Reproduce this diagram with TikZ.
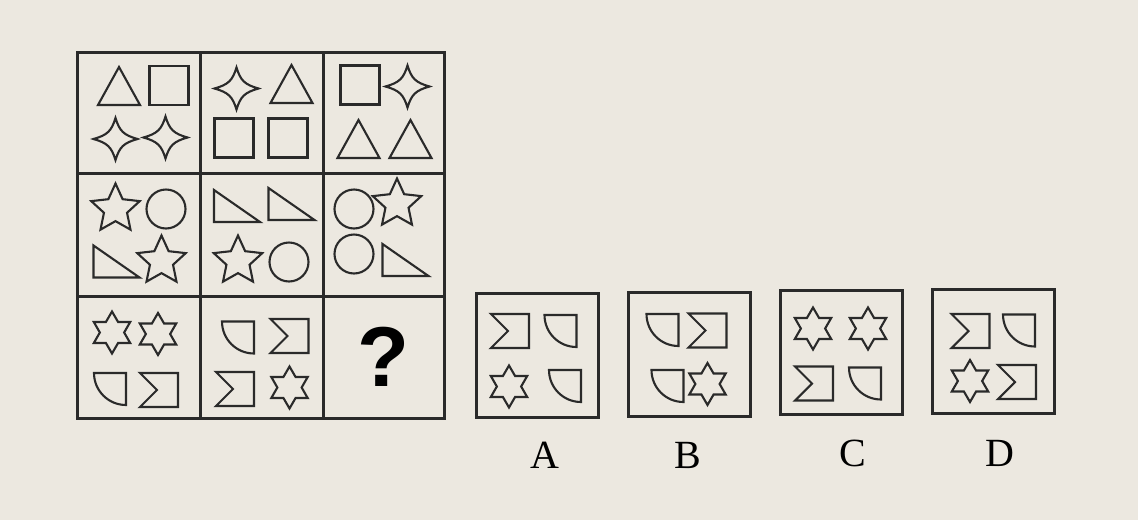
\documentclass[tikz,border=0pt]{standalone}
\usepackage{fontspec}
\setmainfont{Liberation Serif}
\newfontfamily\qfont{Liberation Sans}
\usetikzlibrary{shapes.geometric}
\definecolor{paper}{RGB}{236,232,224}
\definecolor{ink}{RGB}{42,42,42}
\tikzset{
  shp/.style={draw=ink, line width=2.1pt, line join=miter},
  frame/.style={draw=ink, line width=3pt},
  ci/.style={shp, circle, minimum size=39pt, inner sep=0pt},
  sq/.style={shp, rectangle, minimum size=39pt, inner sep=0pt},
  sfive/.style={shp, star, star points=5, star point ratio=2.1, minimum size=51pt, inner sep=0pt},
  ssix/.style={shp, star, star points=6, star point ratio=1.73, minimum size=42pt, inner sep=0pt},
  optbox/.style={frame, rectangle, minimum width=122pt, minimum height=124pt, inner sep=0pt},
  lab/.style={inner sep=0pt, font=\fontsize{40}{48}\selectfont},
  tri/.pic={\draw[shp] (-21,19) -- (21,19) -- (0,-19) -- cycle;},
  rtri/.pic={\draw[shp] (-23,-16) -- (-23,16) -- (23,16) -- cycle;},
  quart/.pic={\draw[shp] (-16,-16) -- (16,-16) -- (16,16) .. controls (-1.7,16) and (-16,1.7) .. (-16,-16) -- cycle;},
  sigma/.pic={\draw[shp] (-19,-17) -- (19,-17) -- (19,17) -- (-19,17) -- (-2,0) -- cycle;},
  sfour/.pic={\draw[shp] (0,-21) .. controls (4,-8) and (8,-4) .. (22,0) .. controls (8,4) and (4,8) .. (0,21) .. controls (-4,8) and (-8,4) .. (-22,0) .. controls (-8,-4) and (-4,-8) .. (0,-21) -- cycle;}
}
\begin{document}
\begin{tikzpicture}[x=1pt,y=-1pt]
\fill[paper] (0,0) rectangle (1138,520);
\useasboundingbox (0,0) rectangle (1138,520);

% grid
\draw[frame] (77,52) rectangle (444,418);
\draw[frame] (200,52) -- (200,418);
\draw[frame] (323,52) -- (323,418);
\draw[frame] (77,173) -- (444,173);
\draw[frame] (77,296) -- (444,296);

% row 1
\pic at (119,86) {tri};
\node[sq] (s11b) at (169,85.5) {};
\pic at (115.5,139) {sfour};
\pic at (165.5,137.5) {sfour};

\pic at (236.5,88.5) {sfour};
\pic at (291.5,84) {tri};
\node[sq] (s12c) at (234,138) {};
\node[sq] (s12d) at (288,138) {};

\node[sq] (s13a) at (360,85) {};
\pic at (407.5,86.5) {sfour};
\pic at (358.5,139) {tri};
\pic at (410.5,139) {tri};

% row 2
\node[sfive] (s21a) at (115.5,209) {};
\node[ci] (s21b) at (166,209) {};
\pic at (116.5,261.5) {rtri};
\node[sfive] (s21d) at (161.5,261) {};

\pic at (237,206) {rtri};
\pic at (291.5,204) {rtri};
\node[sfive] (s22c) at (238,261) {};
\node[ci] (s22d) at (289,262) {};

\node[ci] (s23a) at (354,209) {};
\node[sfive] (s23b) at (397,204) {};
\node[ci] (s23c) at (354,254) {};
\pic at (405.5,260) {rtri};

% row 3
\node[ssix] (s31a) at (112,332.5) {};
\node[ssix] (s31b) at (158,334) {};
\pic at (110,389) {quart};
\pic at (159,390) {sigma};

\pic at (238,337.5) {quart};
\pic at (289.5,336) {sigma};
\pic at (235,389) {sigma};
\node[ssix] (s32d) at (289.5,387.5) {};

\node (q) at (383,357) {\qfont\bfseries\fontsize{85}{90}\selectfont ?};

% options
\node[optbox] (optA) at (537,355) {};
\node[optbox] (optB) at (689,354) {};
\node[optbox] (optC) at (841.5,352) {};
\node[optbox] (optD) at (993.5,351) {};

\pic at (510,331) {sigma};
\pic at (560.5,331) {quart};
\node[ssix] (a3) at (509,386.5) {};
\pic at (565,386) {quart};

\pic at (662.5,330) {quart};
\pic at (707.5,330.5) {sigma};
\pic at (667.5,386) {quart};
\node[ssix] (b4) at (707.5,384) {};

\node[ssix] (c1) at (813,328.5) {};
\node[ssix] (c2) at (868,328.5) {};
\pic at (814,383.5) {sigma};
\pic at (865,383.5) {quart};

\pic at (970.5,331) {sigma};
\pic at (1019,330.5) {quart};
\node[ssix] (d3) at (970,381) {};
\pic at (1017,382) {sigma};

\node[lab] (labA) at (545,455) {A};
\node[lab] (labB) at (688,455) {B};
\node[lab] (labC) at (853,453) {C};
\node[lab] (labD) at (1000,453) {D};
\end{tikzpicture}
\end{document}
